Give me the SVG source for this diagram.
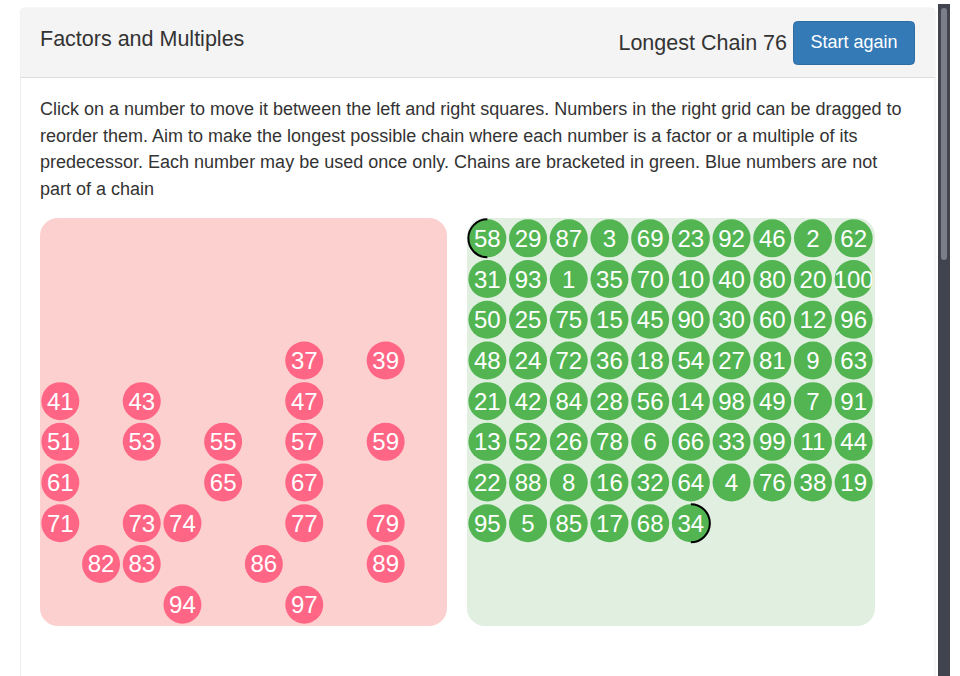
<svg xmlns="http://www.w3.org/2000/svg" width="960" height="676" viewBox="0 0 960 676">
<style>
text{font-family:"Liberation Sans",Arial,Helvetica,sans-serif}
.hd{font-size:21.5px;fill:#333}
.p{font-size:18px;fill:#333}
.btn{font-size:18px;fill:#fff}
.pc{fill:#ff6685}
.gc{fill:#52b552}
.n{font-size:24px;fill:#fff;text-anchor:middle}
.br{fill:none;stroke:#000;stroke-width:2}
</style>
<rect width="960" height="676" fill="#fff"/>
<g id="card">
<path d="M20.5 676 V12 a4 4 0 0 1 4 -4 H931 a4 4 0 0 1 4 4 V676" fill="#fff" stroke="#eee"/>
<path d="M20.5 77 V12 a4 4 0 0 1 4 -4 H931 a4 4 0 0 1 4 4 V77 Z" fill="#f4f4f4"/>
<line x1="20.5" y1="77.5" x2="935" y2="77.5" stroke="#ddd"/>
<text class="hd" x="40" y="46">Factors and Multiples</text>
<text class="hd" x="787" y="50" text-anchor="end">Longest Chain 76</text>
</g>
<g id="start-again">
<rect x="793.5" y="21.5" width="121" height="43" rx="4" fill="#337ab7" stroke="#2e6da4"/>
<text class="btn" x="854" y="48" text-anchor="middle">Start again</text>
</g>
<g id="instructions">
<text class="p" x="40" y="115">Click on a number to move it between the left and right squares. Numbers in the right grid can be dragged to</text>
<text class="p" x="40" y="142">reorder them. Aim to make the longest possible chain where each number is a factor or a multiple of its</text>
<text class="p" x="40" y="168">predecessor. Each number may be used once only. Chains are bracketed in green. Blue numbers are not</text>
<text class="p" x="40" y="195">part of a chain</text>
</g>
<g id="scrollbar">
<rect x="938" y="4" width="12" height="672" fill="#41444f"/>
<rect x="941" y="8" width="6" height="252" rx="3" fill="#7b7e88"/>
</g>
<g id="left-grid">
<rect x="40" y="218" width="407" height="408" rx="18" fill="#fdd0d0"/>
<g id="l37"><circle class="pc" cx="304.25" cy="360.45" r="19"/><text class="n" x="304.25" y="368.95">37</text></g>
<g id="l39"><circle class="pc" cx="385.65" cy="360.45" r="19"/><text class="n" x="385.65" y="368.95">39</text></g>
<g id="l41"><circle class="pc" cx="60.35" cy="401.15" r="19"/><text class="n" x="60.35" y="409.65">41</text></g>
<g id="l43"><circle class="pc" cx="141.75" cy="401.15" r="19"/><text class="n" x="141.75" y="409.65">43</text></g>
<g id="l47"><circle class="pc" cx="304.25" cy="401.15" r="19"/><text class="n" x="304.25" y="409.65">47</text></g>
<g id="l51"><circle class="pc" cx="60.35" cy="441.85" r="19"/><text class="n" x="60.35" y="450.35">51</text></g>
<g id="l53"><circle class="pc" cx="141.75" cy="441.85" r="19"/><text class="n" x="141.75" y="450.35">53</text></g>
<g id="l55"><circle class="pc" cx="223.15" cy="441.85" r="19"/><text class="n" x="223.15" y="450.35">55</text></g>
<g id="l57"><circle class="pc" cx="304.25" cy="441.85" r="19"/><text class="n" x="304.25" y="450.35">57</text></g>
<g id="l59"><circle class="pc" cx="385.65" cy="441.85" r="19"/><text class="n" x="385.65" y="450.35">59</text></g>
<g id="l61"><circle class="pc" cx="60.35" cy="482.55" r="19"/><text class="n" x="60.35" y="491.05">61</text></g>
<g id="l65"><circle class="pc" cx="223.15" cy="482.55" r="19"/><text class="n" x="223.15" y="491.05">65</text></g>
<g id="l67"><circle class="pc" cx="304.25" cy="482.55" r="19"/><text class="n" x="304.25" y="491.05">67</text></g>
<g id="l71"><circle class="pc" cx="60.35" cy="523.25" r="19"/><text class="n" x="60.35" y="531.75">71</text></g>
<g id="l73"><circle class="pc" cx="141.75" cy="523.25" r="19"/><text class="n" x="141.75" y="531.75">73</text></g>
<g id="l74"><circle class="pc" cx="182.45" cy="523.25" r="19"/><text class="n" x="182.45" y="531.75">74</text></g>
<g id="l77"><circle class="pc" cx="304.25" cy="523.25" r="19"/><text class="n" x="304.25" y="531.75">77</text></g>
<g id="l79"><circle class="pc" cx="385.65" cy="523.25" r="19"/><text class="n" x="385.65" y="531.75">79</text></g>
<g id="l82"><circle class="pc" cx="101.05" cy="563.95" r="19"/><text class="n" x="101.05" y="572.45">82</text></g>
<g id="l83"><circle class="pc" cx="141.75" cy="563.95" r="19"/><text class="n" x="141.75" y="572.45">83</text></g>
<g id="l86"><circle class="pc" cx="263.85" cy="563.95" r="19"/><text class="n" x="263.85" y="572.45">86</text></g>
<g id="l89"><circle class="pc" cx="385.65" cy="563.95" r="19"/><text class="n" x="385.65" y="572.45">89</text></g>
<g id="l94"><circle class="pc" cx="182.45" cy="604.65" r="19"/><text class="n" x="182.45" y="613.15">94</text></g>
<g id="l97"><circle class="pc" cx="304.25" cy="604.65" r="19"/><text class="n" x="304.25" y="613.15">97</text></g>
</g>
<g id="right-grid">
<rect x="467" y="218" width="408" height="408" rx="18" fill="#e0efe0"/>
<g id="r58"><circle class="gc" cx="487.35" cy="238.35" r="19"/><text class="n" x="487.35" y="246.85">58</text></g>
<g id="r29"><circle class="gc" cx="528.05" cy="238.35" r="19"/><text class="n" x="528.05" y="246.85">29</text></g>
<g id="r87"><circle class="gc" cx="568.75" cy="238.35" r="19"/><text class="n" x="568.75" y="246.85">87</text></g>
<g id="r3"><circle class="gc" cx="609.45" cy="238.35" r="19"/><text class="n" x="609.45" y="246.85">3</text></g>
<g id="r69"><circle class="gc" cx="650.15" cy="238.35" r="19"/><text class="n" x="650.15" y="246.85">69</text></g>
<g id="r23"><circle class="gc" cx="690.85" cy="238.35" r="19"/><text class="n" x="690.85" y="246.85">23</text></g>
<g id="r92"><circle class="gc" cx="731.55" cy="238.35" r="19"/><text class="n" x="731.55" y="246.85">92</text></g>
<g id="r46"><circle class="gc" cx="772.25" cy="238.35" r="19"/><text class="n" x="772.25" y="246.85">46</text></g>
<g id="r2"><circle class="gc" cx="812.95" cy="238.35" r="19"/><text class="n" x="812.95" y="246.85">2</text></g>
<g id="r62"><circle class="gc" cx="853.65" cy="238.35" r="19"/><text class="n" x="853.65" y="246.85">62</text></g>
<g id="r31"><circle class="gc" cx="487.35" cy="279.05" r="19"/><text class="n" x="487.35" y="287.55">31</text></g>
<g id="r93"><circle class="gc" cx="528.05" cy="279.05" r="19"/><text class="n" x="528.05" y="287.55">93</text></g>
<g id="r1"><circle class="gc" cx="568.75" cy="279.05" r="19"/><text class="n" x="568.75" y="287.55">1</text></g>
<g id="r35"><circle class="gc" cx="609.45" cy="279.05" r="19"/><text class="n" x="609.45" y="287.55">35</text></g>
<g id="r70"><circle class="gc" cx="650.15" cy="279.05" r="19"/><text class="n" x="650.15" y="287.55">70</text></g>
<g id="r10"><circle class="gc" cx="690.85" cy="279.05" r="19"/><text class="n" x="690.85" y="287.55">10</text></g>
<g id="r40"><circle class="gc" cx="731.55" cy="279.05" r="19"/><text class="n" x="731.55" y="287.55">40</text></g>
<g id="r80"><circle class="gc" cx="772.25" cy="279.05" r="19"/><text class="n" x="772.25" y="287.55">80</text></g>
<g id="r20"><circle class="gc" cx="812.95" cy="279.05" r="19"/><text class="n" x="812.95" y="287.55">20</text></g>
<g id="r100"><circle class="gc" cx="853.65" cy="279.05" r="19"/><text class="n" x="853.65" y="287.55">100</text></g>
<g id="r50"><circle class="gc" cx="487.35" cy="319.75" r="19"/><text class="n" x="487.35" y="328.25">50</text></g>
<g id="r25"><circle class="gc" cx="528.05" cy="319.75" r="19"/><text class="n" x="528.05" y="328.25">25</text></g>
<g id="r75"><circle class="gc" cx="568.75" cy="319.75" r="19"/><text class="n" x="568.75" y="328.25">75</text></g>
<g id="r15"><circle class="gc" cx="609.45" cy="319.75" r="19"/><text class="n" x="609.45" y="328.25">15</text></g>
<g id="r45"><circle class="gc" cx="650.15" cy="319.75" r="19"/><text class="n" x="650.15" y="328.25">45</text></g>
<g id="r90"><circle class="gc" cx="690.85" cy="319.75" r="19"/><text class="n" x="690.85" y="328.25">90</text></g>
<g id="r30"><circle class="gc" cx="731.55" cy="319.75" r="19"/><text class="n" x="731.55" y="328.25">30</text></g>
<g id="r60"><circle class="gc" cx="772.25" cy="319.75" r="19"/><text class="n" x="772.25" y="328.25">60</text></g>
<g id="r12"><circle class="gc" cx="812.95" cy="319.75" r="19"/><text class="n" x="812.95" y="328.25">12</text></g>
<g id="r96"><circle class="gc" cx="853.65" cy="319.75" r="19"/><text class="n" x="853.65" y="328.25">96</text></g>
<g id="r48"><circle class="gc" cx="487.35" cy="360.45" r="19"/><text class="n" x="487.35" y="368.95">48</text></g>
<g id="r24"><circle class="gc" cx="528.05" cy="360.45" r="19"/><text class="n" x="528.05" y="368.95">24</text></g>
<g id="r72"><circle class="gc" cx="568.75" cy="360.45" r="19"/><text class="n" x="568.75" y="368.95">72</text></g>
<g id="r36"><circle class="gc" cx="609.45" cy="360.45" r="19"/><text class="n" x="609.45" y="368.95">36</text></g>
<g id="r18"><circle class="gc" cx="650.15" cy="360.45" r="19"/><text class="n" x="650.15" y="368.95">18</text></g>
<g id="r54"><circle class="gc" cx="690.85" cy="360.45" r="19"/><text class="n" x="690.85" y="368.95">54</text></g>
<g id="r27"><circle class="gc" cx="731.55" cy="360.45" r="19"/><text class="n" x="731.55" y="368.95">27</text></g>
<g id="r81"><circle class="gc" cx="772.25" cy="360.45" r="19"/><text class="n" x="772.25" y="368.95">81</text></g>
<g id="r9"><circle class="gc" cx="812.95" cy="360.45" r="19"/><text class="n" x="812.95" y="368.95">9</text></g>
<g id="r63"><circle class="gc" cx="853.65" cy="360.45" r="19"/><text class="n" x="853.65" y="368.95">63</text></g>
<g id="r21"><circle class="gc" cx="487.35" cy="401.15" r="19"/><text class="n" x="487.35" y="409.65">21</text></g>
<g id="r42"><circle class="gc" cx="528.05" cy="401.15" r="19"/><text class="n" x="528.05" y="409.65">42</text></g>
<g id="r84"><circle class="gc" cx="568.75" cy="401.15" r="19"/><text class="n" x="568.75" y="409.65">84</text></g>
<g id="r28"><circle class="gc" cx="609.45" cy="401.15" r="19"/><text class="n" x="609.45" y="409.65">28</text></g>
<g id="r56"><circle class="gc" cx="650.15" cy="401.15" r="19"/><text class="n" x="650.15" y="409.65">56</text></g>
<g id="r14"><circle class="gc" cx="690.85" cy="401.15" r="19"/><text class="n" x="690.85" y="409.65">14</text></g>
<g id="r98"><circle class="gc" cx="731.55" cy="401.15" r="19"/><text class="n" x="731.55" y="409.65">98</text></g>
<g id="r49"><circle class="gc" cx="772.25" cy="401.15" r="19"/><text class="n" x="772.25" y="409.65">49</text></g>
<g id="r7"><circle class="gc" cx="812.95" cy="401.15" r="19"/><text class="n" x="812.95" y="409.65">7</text></g>
<g id="r91"><circle class="gc" cx="853.65" cy="401.15" r="19"/><text class="n" x="853.65" y="409.65">91</text></g>
<g id="r13"><circle class="gc" cx="487.35" cy="441.85" r="19"/><text class="n" x="487.35" y="450.35">13</text></g>
<g id="r52"><circle class="gc" cx="528.05" cy="441.85" r="19"/><text class="n" x="528.05" y="450.35">52</text></g>
<g id="r26"><circle class="gc" cx="568.75" cy="441.85" r="19"/><text class="n" x="568.75" y="450.35">26</text></g>
<g id="r78"><circle class="gc" cx="609.45" cy="441.85" r="19"/><text class="n" x="609.45" y="450.35">78</text></g>
<g id="r6"><circle class="gc" cx="650.15" cy="441.85" r="19"/><text class="n" x="650.15" y="450.35">6</text></g>
<g id="r66"><circle class="gc" cx="690.85" cy="441.85" r="19"/><text class="n" x="690.85" y="450.35">66</text></g>
<g id="r33"><circle class="gc" cx="731.55" cy="441.85" r="19"/><text class="n" x="731.55" y="450.35">33</text></g>
<g id="r99"><circle class="gc" cx="772.25" cy="441.85" r="19"/><text class="n" x="772.25" y="450.35">99</text></g>
<g id="r11"><circle class="gc" cx="812.95" cy="441.85" r="19"/><text class="n" x="812.95" y="450.35">11</text></g>
<g id="r44"><circle class="gc" cx="853.65" cy="441.85" r="19"/><text class="n" x="853.65" y="450.35">44</text></g>
<g id="r22"><circle class="gc" cx="487.35" cy="482.55" r="19"/><text class="n" x="487.35" y="491.05">22</text></g>
<g id="r88"><circle class="gc" cx="528.05" cy="482.55" r="19"/><text class="n" x="528.05" y="491.05">88</text></g>
<g id="r8"><circle class="gc" cx="568.75" cy="482.55" r="19"/><text class="n" x="568.75" y="491.05">8</text></g>
<g id="r16"><circle class="gc" cx="609.45" cy="482.55" r="19"/><text class="n" x="609.45" y="491.05">16</text></g>
<g id="r32"><circle class="gc" cx="650.15" cy="482.55" r="19"/><text class="n" x="650.15" y="491.05">32</text></g>
<g id="r64"><circle class="gc" cx="690.85" cy="482.55" r="19"/><text class="n" x="690.85" y="491.05">64</text></g>
<g id="r4"><circle class="gc" cx="731.55" cy="482.55" r="19"/><text class="n" x="731.55" y="491.05">4</text></g>
<g id="r76"><circle class="gc" cx="772.25" cy="482.55" r="19"/><text class="n" x="772.25" y="491.05">76</text></g>
<g id="r38"><circle class="gc" cx="812.95" cy="482.55" r="19"/><text class="n" x="812.95" y="491.05">38</text></g>
<g id="r19"><circle class="gc" cx="853.65" cy="482.55" r="19"/><text class="n" x="853.65" y="491.05">19</text></g>
<g id="r95"><circle class="gc" cx="487.35" cy="523.25" r="19"/><text class="n" x="487.35" y="531.75">95</text></g>
<g id="r5"><circle class="gc" cx="528.05" cy="523.25" r="19"/><text class="n" x="528.05" y="531.75">5</text></g>
<g id="r85"><circle class="gc" cx="568.75" cy="523.25" r="19"/><text class="n" x="568.75" y="531.75">85</text></g>
<g id="r17"><circle class="gc" cx="609.45" cy="523.25" r="19"/><text class="n" x="609.45" y="531.75">17</text></g>
<g id="r68"><circle class="gc" cx="650.15" cy="523.25" r="19"/><text class="n" x="650.15" y="531.75">68</text></g>
<g id="r34"><circle class="gc" cx="690.85" cy="523.25" r="19"/><text class="n" x="690.85" y="531.75">34</text></g>
</g>
<g id="connectors">
<path class="br" d="M487.35 219.35 A19 19 0 0 0 487.35 257.35"/>
<path class="br" d="M690.85 504.25 A19 19 0 0 1 690.85 542.25"/>
</g>
</svg>
